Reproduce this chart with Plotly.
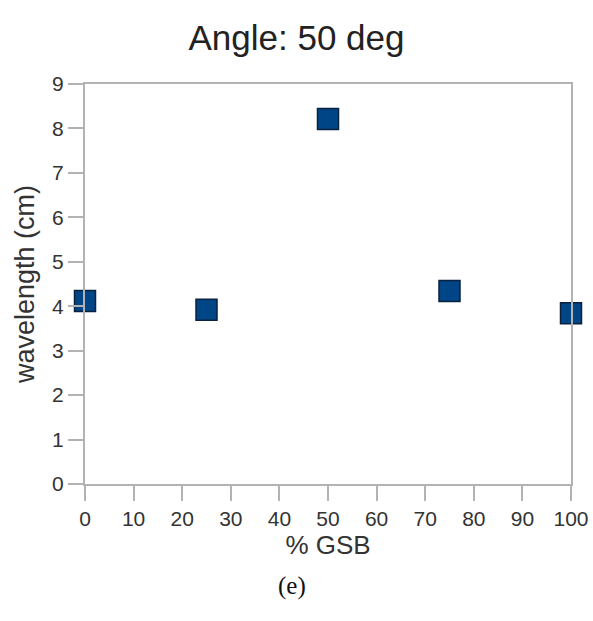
import plotly.graph_objects as go

# Measured wavelength against GSB percentage at 50 degrees
gsb_percent = [0, 25, 50, 75, 100]
wavelength_cm = [4.12, 3.92, 8.21, 4.34, 3.84]

x_ticks = [0, 10, 20, 30, 40, 50, 60, 70, 80, 90, 100]
y_ticks = [0, 1, 2, 3, 4, 5, 6, 7, 8, 9]

SANS = "Liberation Sans, Arial, sans-serif"

fig = go.Figure()
fig.add_trace(go.Scatter(
    x=gsb_percent,
    y=wavelength_cm,
    mode="markers",
    marker=dict(symbol="square", size=21, color="#004586",
                line=dict(color="#0a2240", width=1.5)),
    cliponaxis=False,
    showlegend=False,
))

axis_common = dict(
    showgrid=False,
    zeroline=False,
    showline=True,
    linecolor="#b3b3b3",
    linewidth=2,
    mirror=True,
    ticks="outside",
    ticklen=15,
    tickwidth=2,
    tickcolor="#b3b3b3",
    tickfont=dict(family=SANS, size=21, color="#333333"),
    automargin=False,
)

fig.update_layout(
    width=593,
    height=621,
    margin=dict(l=85, r=22, t=84, b=137),
    paper_bgcolor="white",
    plot_bgcolor="white",
    title=dict(text="Angle: 50 deg", x=0.5, xanchor="center", y=0.94, yanchor="middle",
               font=dict(family=SANS, size=35, color="#222222")),
    xaxis=dict(range=[0, 100], tickvals=x_ticks, **axis_common,
               title=dict(text="% GSB", standoff=5,
                          font=dict(family=SANS, size=26, color="#333333"))),
    yaxis=dict(range=[0, 9], tickvals=y_ticks, **axis_common,
               title=dict(text="wavelength (cm)", standoff=10,
                          font=dict(family=SANS, size=27, color="#333333"))),
)

fig.add_annotation(
    text="(e)", xref="paper", yref="paper", x=0.426, y=-0.255,
    xanchor="center", yanchor="middle", showarrow=False,
    font=dict(family="Liberation Serif, Times New Roman, serif", size=25, color="#111111"),
)

fig.write_html("out.html")
